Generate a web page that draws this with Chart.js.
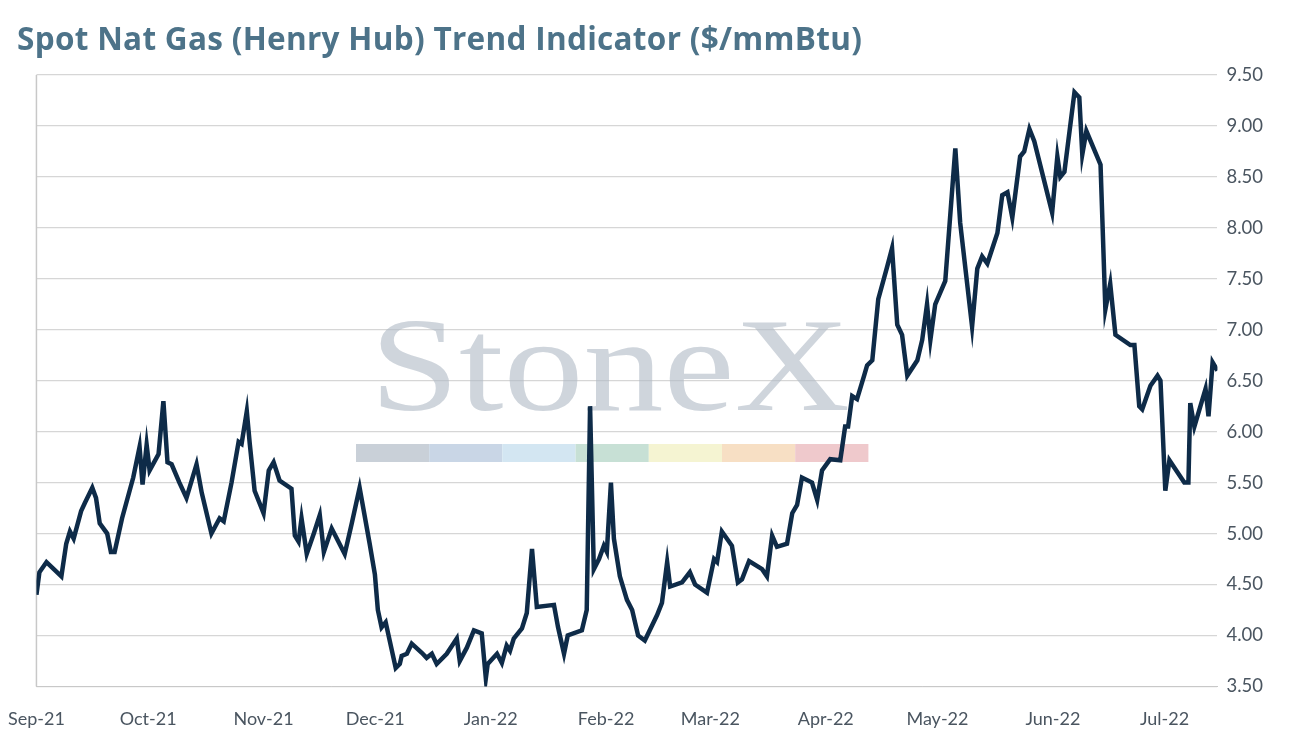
<!DOCTYPE html>
<html><head><meta charset="utf-8">
<script src="https://cdn.jsdelivr.net/npm/chart.js@4"></script>
<style>
html,body{margin:0;padding:0;background:#fff;overflow:hidden;}
#t{position:absolute;left:17px;top:16px;font-family:'Open Sans',Lato,sans-serif;font-weight:bold;font-size:31.5px;letter-spacing:0.3px;color:#4d7389;}
#w{position:absolute;left:-6px;top:0;width:1299px;height:746px;}
</style></head><body>
<div id="w"><canvas id="c" width="1299" height="746"></canvas></div>
<div id="t">Spot Nat Gas (Henry Hub) Trend Indicator ($/mmBtu)</div>
<script>
const days=[0,0.8,2.7,6.7,8,9,10,12,13,15,16,17,19,20,21,23,26,27.7,28.5,29.6,30.4,32.8,34.1,35.2,36.3,38.4,40.3,43.0,44.4,47.0,49.2,50.3,52.4,54.3,55.1,56.5,57.3,58.6,61.0,62.4,63.7,65.3,68.5,69.4,70.4,71.2,72.6,74.5,76.1,77.2,79.3,82.8,84.7,86.8,89.5,90.9,91.7,92.7,93.8,96.5,97.6,98.1,99.5,100.8,103.5,104.8,106.2,107.5,110.2,112.9,113.7,115.6,117.5,119.6,120.7,121.2,123.7,125.0,126.3,127.2,128.2,130.4,131.7,133.1,134.4,139.0,140.1,141.7,142.7,146.5,147.8,148.7,149.7,151.1,152.4,153.2,154.3,155.1,156.7,158.6,160.0,161.6,163.4,166.7,168.0,169.4,170.2,173.4,175.5,176.9,180.1,182.0,182.8,184.1,186.8,188.4,189.5,191.4,194.9,196.2,197.6,198.9,201.6,203.0,204.3,205.6,208.3,209.7,211.0,213.2,215.9,217.2,218.0,219.1,220.4,222.3,223.1,224.5,226.1,228.5,229.8,231.2,232.5,233.9,236.6,237.9,239.2,240.1,241.4,244.1,246.8,248.1,251.3,252.7,254.0,255.4,258.1,259.4,260.8,262.1,264.2,265.3,266.7,268.0,272.8,274.2,275.0,276.1,278.8,280.1,280.9,282.0,285.8,287.1,288.4,289.8,293.8,294.9,296.2,297.0,299.2,301.1,301.9,303.2,304.3,306.5,308.3,309.4,309.9,311.0,314.0,314.8,315.9,317.2];
const prices=[4.40,4.62,4.72,4.58,4.90,5.02,4.95,5.22,5.30,5.45,5.35,5.10,5.00,4.82,4.82,5.15,5.55,5.85,5.48,5.87,5.62,5.78,6.30,5.70,5.68,5.50,5.35,5.68,5.40,5.00,5.15,5.12,5.50,5.90,5.88,6.20,5.88,5.42,5.20,5.62,5.70,5.52,5.44,4.98,4.92,5.15,4.80,5.00,5.18,4.82,5.05,4.80,5.10,5.45,4.90,4.60,4.25,4.08,4.13,3.68,3.72,3.80,3.82,3.92,3.83,3.78,3.82,3.72,3.82,3.97,3.75,3.88,4.05,4.02,3.58,3.72,3.82,3.73,3.90,3.85,3.97,4.07,4.22,4.85,4.28,4.30,4.08,3.82,4.00,4.05,4.25,6.25,4.65,4.75,4.88,4.82,5.50,4.95,4.58,4.35,4.25,4.00,3.95,4.20,4.32,4.72,4.48,4.52,4.62,4.50,4.42,4.75,4.72,5.02,4.88,4.52,4.55,4.73,4.65,4.58,4.98,4.87,4.90,5.20,5.28,5.55,5.50,5.33,5.62,5.73,5.72,6.05,6.05,6.35,6.32,6.55,6.65,6.70,7.30,7.62,7.80,7.05,6.95,6.55,6.70,6.90,7.25,6.90,7.25,7.48,8.78,8.05,7.03,7.60,7.72,7.65,7.95,8.32,8.35,8.10,8.70,8.75,8.97,8.85,8.15,8.70,8.50,8.55,9.33,9.28,8.72,8.95,8.62,7.20,7.45,6.95,6.85,6.85,6.25,6.22,6.45,6.55,6.50,5.42,5.72,5.60,5.50,5.50,6.28,6.05,6.42,6.15,6.68,6.60];
const monthDays=[0,30,61,91,122,153,181,212,242,273,303];
const monthLabels=['Sep-21','Oct-21','Nov-21','Dec-21','Jan-22','Feb-22','Mar-22','Apr-22','May-22','Jun-22','Jul-22'];
const wm={id:'wm',beforeDatasetsDraw(ch){const c=ch.ctx,a=ch.chartArea;c.save();
c.strokeStyle='#c8c8c8';c.lineWidth=1.5;c.beginPath();c.moveTo(a.left,a.top);c.lineTo(a.left,a.bottom);c.stroke();
c.font='128px "Liberation Serif",serif';c.fillStyle='rgba(175,185,197,0.6)';c.textAlign='center';c.textBaseline='alphabetic';
c.translate(616,410);c.scale(1.25,1.05);c.fillText('StoneX',0,0);c.setTransform(1,0,0,1,0,0);
const cols=['#c9d0d8','#c9d6e6','#d3e6f2','#c7e0d5','#f5f4d2','#f7dfc4','#efc9cc'];
cols.forEach((col,i)=>{c.fillStyle=col;c.fillRect(362+i*73.2,444,73.2,18);});
c.restore();}};
new Chart(document.getElementById('c'),{type:'line',
data:{datasets:[{data:days.map((d,i)=>({x:d,y:prices[i]})),borderColor:'#0e2b48',borderWidth:4.5,pointRadius:0,tension:0}]},
options:{responsive:false,animation:false,
layout:{padding:{left:29,right:21,top:75,bottom:2}},
plugins:{legend:{display:false},tooltip:{enabled:false}},
scales:{
x:{type:'linear',min:0,max:317.2,
afterBuildTicks(a){a.ticks=monthDays.map(v=>({value:v}));},
ticks:{autoSkip:false,maxRotation:0,padding:14,color:'#4a5560',font:{family:'Lato,"Open Sans",sans-serif',size:18},callback:(v)=>monthLabels[monthDays.indexOf(v)]},
grid:{display:false},border:{display:true,color:'#c8c8c8'}},
y:{position:'right',min:3.5,max:9.5,
ticks:{stepSize:0.5,padding:9,color:'#4a5560',font:{family:'Lato,"Open Sans",sans-serif',size:18.5},callback:v=>v.toFixed(2)},
grid:{color:'#d6d6d6',drawTicks:false,lineWidth:1.3},border:{display:false}}
}},plugins:[wm]});
</script></body></html>
